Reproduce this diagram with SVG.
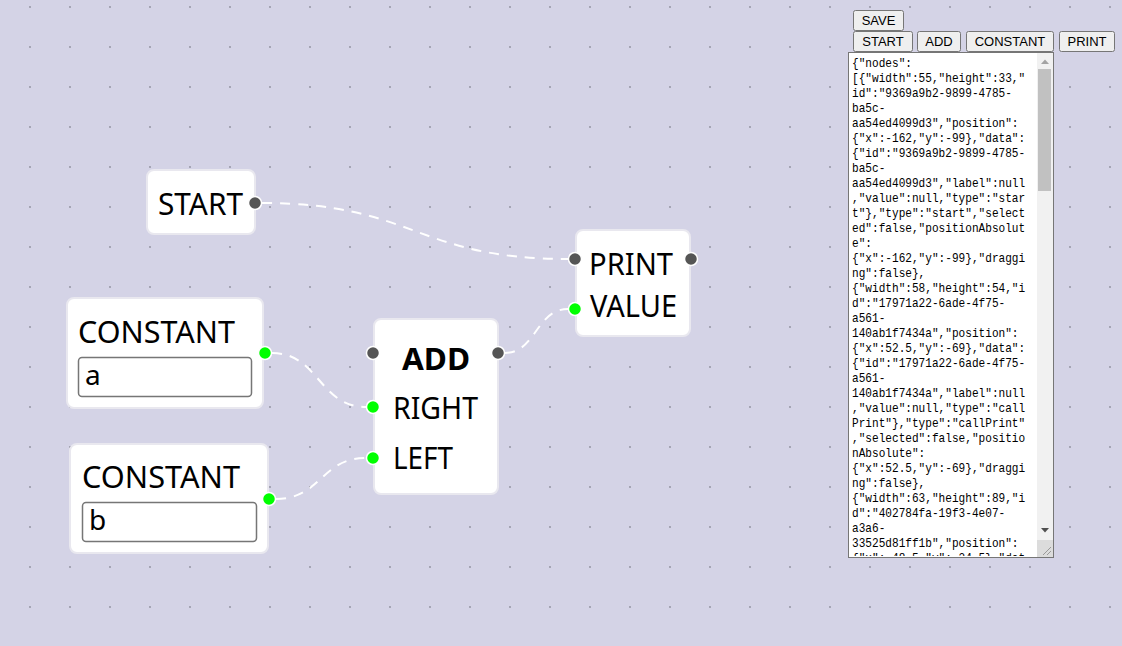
<svg xmlns="http://www.w3.org/2000/svg" width="1122" height="646" viewBox="0 0 1122 646">
<style>
.node{fill:#fff;stroke:#e9e8ef;stroke-width:2}
.lbl{font-family:"Noto Sans","Open Sans",sans-serif;font-size:31px;fill:#000}
.bold{font-weight:700}
.inp{fill:#fff;stroke:#767676;stroke-width:1.5}
.val{font-family:"Noto Sans","Open Sans",sans-serif;font-size:28px;fill:#000}
.hd{fill:#555;stroke:#fff;stroke-width:1.5}
.hg{fill:#00ff00;stroke:#fff;stroke-width:1.5}
.edge{fill:none;stroke:#fff;stroke-width:2;stroke-dasharray:10 8}
.btn{fill:#efefef;stroke:#767676;stroke-width:1}
.btxt{font-family:"Liberation Sans",Arial,sans-serif;font-size:13px;fill:#000;text-anchor:middle}
.code{font-family:"Liberation Mono","DejaVu Sans Mono",monospace;font-size:13px;fill:#000}
</style>
<defs>
<pattern id="dots" x="10" y="-13" width="40" height="40" patternUnits="userSpaceOnUse">
<circle cx="20" cy="20" r="0.9" fill="#8e8e9c"/>
</pattern>
<clipPath id="taclip"><rect x="849" y="53" width="188" height="503"/></clipPath>
</defs>
<rect width="1122" height="646" fill="#d4d3e6"/>
<rect width="1122" height="646" fill="url(#dots)"/>

<g id="connectors">
<path class="edge" d="M262,203 C415,203 415,259 568,259"/>
<path class="edge" d="M272,353 C319,353 319,407 366,407"/>
<path class="edge" d="M276,499 C321,499 321,458 366,458"/>
<path class="edge" d="M505,353 C536,353 536,309 568,309"/>
</g>

<g id="node-start">
<rect class="node" x="147" y="170" width="108" height="64" rx="7"/>
<text class="lbl" x="158" y="215" textLength="85" lengthAdjust="spacingAndGlyphs">START</text>
<circle class="hd" cx="255" cy="203" r="6.5"/>
</g>

<g id="node-print">
<rect class="node" x="576" y="230" width="114" height="106" rx="7"/>
<text class="lbl" x="589" y="275" textLength="84" lengthAdjust="spacingAndGlyphs">PRINT</text>
<text class="lbl" x="590" y="317" textLength="87" lengthAdjust="spacingAndGlyphs">VALUE</text>
<circle class="hd" cx="575" cy="259" r="6.5"/>
<circle class="hd" cx="691" cy="259" r="6.5"/>
<circle class="hg" cx="575" cy="309" r="6.5"/>
</g>

<g id="node-add">
<rect class="node" x="374" y="319" width="124" height="175" rx="7"/>
<text class="lbl bold" x="402" y="370" textLength="68" lengthAdjust="spacingAndGlyphs">ADD</text>
<text class="lbl" x="393" y="419" textLength="85" lengthAdjust="spacingAndGlyphs">RIGHT</text>
<text class="lbl" x="393" y="469" textLength="60" lengthAdjust="spacingAndGlyphs">LEFT</text>
<circle class="hd" cx="373" cy="353" r="6.5"/>
<circle class="hd" cx="498" cy="353" r="6.5"/>
<circle class="hg" cx="373" cy="407" r="6.5"/>
<circle class="hg" cx="373" cy="458" r="6.5"/>
</g>

<g id="node-constant-a">
<rect class="node" x="67" y="298" width="196" height="110" rx="7"/>
<text class="lbl" x="78" y="343" textLength="157" lengthAdjust="spacingAndGlyphs">CONSTANT</text>
<rect class="inp" x="78.5" y="357.5" width="173" height="39" rx="3.5"/>
<text class="val" x="85" y="385">a</text>
<circle class="hg" cx="265" cy="353" r="6.5"/>
</g>

<g id="node-constant-b">
<rect class="node" x="70" y="444" width="198" height="109" rx="7"/>
<text class="lbl" x="82" y="488" textLength="158" lengthAdjust="spacingAndGlyphs">CONSTANT</text>
<rect class="inp" x="82.5" y="502.5" width="174" height="39" rx="3.5"/>
<text class="val" x="89" y="530">b</text>
<circle class="hg" cx="269" cy="499" r="6.5"/>
</g>

<g id="toolbar">
<rect class="btn" x="853.5" y="10.5" width="50" height="20" rx="2"/>
<text class="btxt" x="878.5" y="25">SAVE</text>
<rect class="btn" x="853.5" y="31.5" width="59" height="20" rx="2"/>
<text class="btxt" x="883" y="46">START</text>
<rect class="btn" x="917.5" y="31.5" width="43" height="20" rx="2"/>
<text class="btxt" x="939" y="46">ADD</text>
<rect class="btn" x="966.5" y="31.5" width="87" height="20" rx="2"/>
<text class="btxt" x="1010" y="46">CONSTANT</text>
<rect class="btn" x="1059.5" y="31.5" width="55" height="20" rx="2"/>
<text class="btxt" x="1087" y="46">PRINT</text>
</g>

<g id="textarea">
<rect x="848.5" y="52.5" width="205" height="505" fill="#fff" stroke="#767676" stroke-width="1"/>
<g clip-path="url(#taclip)">
<text class="code" transform="translate(852 0) scale(0.855 1)" y="67">
<tspan x="0" y="67">{"nodes":</tspan>
<tspan x="0" dy="15">[{"width":55,"height":33,"</tspan>
<tspan x="0" dy="15">id":"9369a9b2-9899-4785-</tspan>
<tspan x="0" dy="15">ba5c-</tspan>
<tspan x="0" dy="15">aa54ed4099d3","position":</tspan>
<tspan x="0" dy="15">{"x":-162,"y":-99},"data":</tspan>
<tspan x="0" dy="15">{"id":"9369a9b2-9899-4785-</tspan>
<tspan x="0" dy="15">ba5c-</tspan>
<tspan x="0" dy="15">aa54ed4099d3","label":null</tspan>
<tspan x="0" dy="15">,"value":null,"type":"star</tspan>
<tspan x="0" dy="15">t"},"type":"start","select</tspan>
<tspan x="0" dy="15">ed":false,"positionAbsolut</tspan>
<tspan x="0" dy="15">e":</tspan>
<tspan x="0" dy="15">{"x":-162,"y":-99},"draggi</tspan>
<tspan x="0" dy="15">ng":false},</tspan>
<tspan x="0" dy="15">{"width":58,"height":54,"i</tspan>
<tspan x="0" dy="15">d":"17971a22-6ade-4f75-</tspan>
<tspan x="0" dy="15">a561-</tspan>
<tspan x="0" dy="15">140ab1f7434a","position":</tspan>
<tspan x="0" dy="15">{"x":52.5,"y":-69},"data":</tspan>
<tspan x="0" dy="15">{"id":"17971a22-6ade-4f75-</tspan>
<tspan x="0" dy="15">a561-</tspan>
<tspan x="0" dy="15">140ab1f7434a","label":null</tspan>
<tspan x="0" dy="15">,"value":null,"type":"call</tspan>
<tspan x="0" dy="15">Print"},"type":"callPrint"</tspan>
<tspan x="0" dy="15">,"selected":false,"positio</tspan>
<tspan x="0" dy="15">nAbsolute":</tspan>
<tspan x="0" dy="15">{"x":52.5,"y":-69},"draggi</tspan>
<tspan x="0" dy="15">ng":false},</tspan>
<tspan x="0" dy="15">{"width":63,"height":89,"i</tspan>
<tspan x="0" dy="15">d":"402784fa-19f3-4e07-</tspan>
<tspan x="0" dy="15">a3a6-</tspan>
<tspan x="0" dy="15">33525d81ff1b","position":</tspan>
<tspan x="0" dy="15">{"x":-48.5,"y":-24.5},"dat</tspan>
</text>
</g>
<rect x="1037" y="53" width="16" height="504" fill="#f1f1f1"/>
<rect x="1038" y="69" width="13" height="122" fill="#c1c1c1"/>
<path d="M1041,64 L1045,59.5 L1049,64 Z" fill="#a3a3a3"/>
<path d="M1041,528 L1045,532.5 L1049,528 Z" fill="#505050"/>
<rect x="1037" y="540" width="16" height="17" fill="#dcdcdc"/>
<path d="M1043,555 L1051,547 M1047,555 L1051,551" stroke="#999" stroke-width="1"/>
</g>
</svg>
